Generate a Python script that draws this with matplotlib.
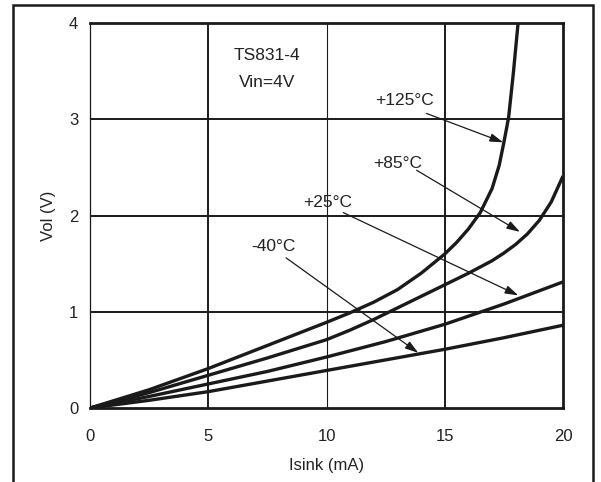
import matplotlib
matplotlib.use("Agg")
import matplotlib.pyplot as plt
from matplotlib.patches import Rectangle

plt.rcParams['font.family'] = ['Liberation Sans', 'DejaVu Sans']

# Output low-level voltage vs sink current, TS831-4 at Vin = 4 V
i_m40 = [0, 2.5, 5, 7.5, 10, 12.5, 15, 17.5, 20]
v_m40 = [0, 0.08, 0.17, 0.28, 0.39, 0.50, 0.61, 0.73, 0.86]

i_25 = [0, 2.5, 5, 7.5, 10, 12.5, 15, 17.5, 20]
v_25 = [0, 0.12, 0.25, 0.38, 0.53, 0.69, 0.87, 1.08, 1.31]

i_85 = [0, 2.5, 5, 7.5, 10, 11, 12, 13, 14, 15, 16, 17, 17.5, 18, 18.5, 19, 19.5, 20]
v_85 = [0, 0.16, 0.34, 0.52, 0.71, 0.81, 0.92, 1.04, 1.16, 1.28, 1.40, 1.53, 1.61, 1.70, 1.81, 1.95, 2.14, 2.41]

i_125 = [0, 2.5, 5, 7.5, 10, 11, 12, 13, 14, 15, 15.5, 16, 16.5, 17.0, 17.3, 17.5, 17.7, 17.9, 18.1]
v_125 = [0, 0.19, 0.41, 0.65, 0.89, 0.99, 1.10, 1.23, 1.40, 1.60, 1.72, 1.86, 2.03, 2.28, 2.52, 2.76, 3.02, 3.48, 4.0]

temp_labels = ['+125°C', '+85°C', '+25°C', '-40°C']
x_ticks = [0, 5, 10, 15, 20]
y_ticks = [0, 1, 2, 3, 4]

fig = plt.figure(figsize=(6.01, 4.82), dpi=100)
ax = fig.add_axes([0.1498, 0.1535, 0.7870, 0.7988])

# outer frame (open at the bottom)
fig.patches.append(Rectangle((13 / 601, -0.05), (593 - 13) / 601, 1.05 - 5 / 482,
                             transform=fig.transFigure, fill=False,
                             edgecolor='#1a1a1a', linewidth=1.8))

ink = '#1a1a1a'
txt = '#222222'
for x in x_ticks[1:-1]:
    ax.axvline(x, color=ink, linewidth=0.8 if x == 10 else 1.4, zorder=1)
for y in y_ticks[1:-1]:
    ax.axhline(y, color=ink, linewidth=1.4, zorder=1)

for xs, ys in [(i_m40, v_m40), (i_25, v_25), (i_85, v_85), (i_125, v_125)]:
    ax.plot(xs, ys, color=ink, linewidth=2.4, solid_capstyle='butt',
            solid_joinstyle='round', zorder=3)

ax.set_xlim(0, 20)
ax.set_ylim(0, 4)
ax.set_xticks(x_ticks)
ax.set_yticks(y_ticks)
ax.tick_params(length=0, labelsize=12, colors=txt)
ax.tick_params(axis='x', pad=15)
ax.tick_params(axis='y', pad=8.5)
for name, s in ax.spines.items():
    s.set_linewidth(0.9 if name == 'left' else 2.0)
    s.set_color(ink)

ax.set_xlabel('Isink (mA)', fontsize=12, color=txt, labelpad=10)
ax.set_ylabel('Vol (V)', fontsize=12, color=txt, labelpad=9.5)

ax.text(7.5, 3.66, 'TS831-4', ha='center', va='center', fontsize=12.5, color=txt)
ax.text(7.5, 3.38, 'Vin=4V', ha='center', va='center', fontsize=12.5, color=txt)

label_pos = [(13.28, 3.19), (12.99, 2.54), (10.06, 2.13), (7.77, 1.68)]
arrow_tail = [(14.23, 3.06), (13.81, 2.47), (10.71, 2.03), (8.29, 1.56)]
arrow_head = [(17.47, 2.76), (18.18, 1.83), (18.11, 1.17), (13.88, 0.573)]
for lab, pos, tail, head in zip(temp_labels, label_pos, arrow_tail, arrow_head):
    ax.text(pos[0], pos[1], lab, ha='center', va='center', fontsize=12.5, color=txt)
    ax.annotate('', xy=head, xytext=tail,
                arrowprops=dict(arrowstyle='-|>,head_length=0.8,head_width=0.25',
                                color=ink, linewidth=0.9, shrinkA=0, shrinkB=0),
                zorder=4)

fig.savefig('out.png', dpi=100)
